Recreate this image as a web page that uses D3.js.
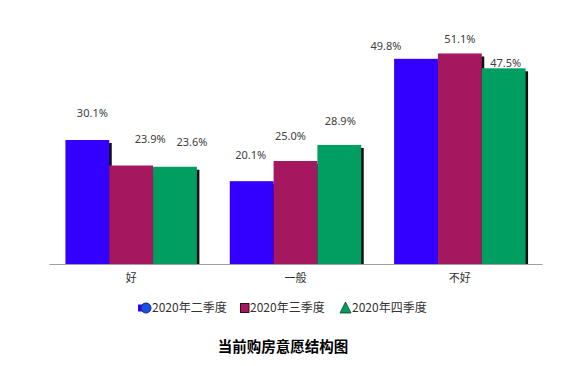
<!DOCTYPE html>
<html>
<head>
<meta charset="utf-8">
<script src="https://cdn.jsdelivr.net/npm/d3@7"></script>
<style>
  body { margin: 0; background: #fff; }
  svg { display: block; }
</style>
</head>
<body>
<svg id="chart"></svg>
<script>
// data
var categories = ['好', '一般', '不好'];
var seriesNames = ['2020年二季度', '2020年三季度', '2020年四季度'];
var q2 = [30.1, 20.1, 49.8];
var q3 = [23.9, 25.0, 51.1];
var q4 = [23.6, 28.9, 47.5];
var seriesValues = [q2, q3, q4];

var colors = ['#3300ff', '#a5175f', '#009e60'];
// value labels are nudged around in the original, [dx, dy] per series per category
var labelNudge = [
  [[5, -27], [-1, -26], [-30, -13]],
  [[19, -26], [-5, -25], [0, -14]],
  [[17, -25], [1, -24], [2, -5]]
];

var config = { width: 565, height: 366 };
var baseY = 264;

var svg = d3.select('#chart')
  .attr('width', config.width)
  .attr('height', config.height);

var x = d3.scaleBand().domain(categories).range([49, 542])
  .paddingInner(0.2).paddingOuter(0.1);
var xs = d3.scaleBand().domain(d3.range(seriesNames.length)).range([0, x.bandwidth()]);
var y = d3.scaleLinear().domain([0, 60]).range([baseY, baseY - 60 * 4.12]);

// bars, each with a small black shadow drawn just before it
var g = svg.append('g');
categories.forEach(function(c, ci) {
  seriesValues.forEach(function(vals, si) {
    var bx = x(c) + xs(si), by = y(vals[ci]);
    g.append('rect')
      .attr('x', bx + 2.5).attr('y', by + 3)
      .attr('width', xs.bandwidth()).attr('height', baseY - by - 3)
      .attr('fill', '#111');
    g.append('rect')
      .attr('x', bx).attr('y', by)
      .attr('width', xs.bandwidth()).attr('height', baseY - by)
      .attr('fill', colors[si]);
  });
});

// value labels
categories.forEach(function(c, ci) {
  seriesValues.forEach(function(vals, si) {
    var nud = labelNudge[si][ci];
    svg.append('text')
      .attr('x', x(c) + xs(si) + xs.bandwidth() / 2 + nud[0])
      .attr('y', y(vals[ci]) + nud[1])
      .attr('dy', '0.35em')
      .attr('text-anchor', 'middle')
      .style('font-family', '"Noto Sans", "Liberation Sans", sans-serif')
      .style('font-size', '11px')
      .style('fill', '#404040')
      .text(vals[ci].toFixed(1) + '%');
  });
});

// x axis
var axis = svg.append('g')
  .attr('transform', 'translate(0,' + baseY + ')')
  .call(d3.axisBottom(x).tickSize(0).tickPadding(10).tickSizeOuter(0));
axis.select('.domain').attr('stroke', '#a0a0a0').attr('stroke-width', 1.2);
axis.selectAll('text')
  .style('font-family', '"Noto Sans CJK SC", sans-serif')
  .style('font-size', '11px')
  .style('fill', '#333');

// legend
var legendX = [138, 240, 340];
var legendY = 308;
var lg = svg.append('g');
seriesNames.forEach(function(name, i) {
  var lx = legendX[i];
  if (i === 0) {
    lg.append('rect').attr('x', lx).attr('y', legendY - 3.5).attr('width', 6).attr('height', 7)
      .attr('fill', colors[0]);
    lg.append('circle').attr('cx', lx + 8).attr('cy', legendY).attr('r', 5)
      .attr('fill', '#1a50e0').attr('stroke', '#1b2560').attr('stroke-width', 1);
    lx += 14;
  } else if (i === 1) {
    lg.append('rect').attr('x', lx + 0.5).attr('y', legendY - 4.5).attr('width', 8.5).attr('height', 9)
      .attr('fill', colors[1]).attr('stroke', '#3a0a20').attr('stroke-width', 1);
    lx += 10;
  } else {
    lg.append('path')
      .attr('d', 'M' + (lx + 5.5) + ',' + (legendY - 6) + 'L' + (lx + 11) + ',' + (legendY + 5) +
        'L' + lx + ',' + (legendY + 5) + 'Z')
      .attr('fill', colors[2]).attr('stroke', '#0c3a20').attr('stroke-width', 0.8);
    lx += 12;
  }
  lg.append('text')
    .attr('x', lx).attr('y', legendY).attr('dy', '0.35em')
    .style('font-family', '"Noto Sans CJK SC", sans-serif')
    .style('font-size', '12px')
    .style('fill', '#333')
    .text(name);
});

// title
svg.append('text')
  .attr('x', 283).attr('y', 347).attr('dy', '0.35em')
  .attr('text-anchor', 'middle')
  .style('font-family', '"Noto Sans CJK SC", sans-serif')
  .style('font-size', '14.5px')
  .style('font-weight', 'bold')
  .style('fill', '#000')
  .text('当前购房意愿结构图');
</script>
</body>
</html>
